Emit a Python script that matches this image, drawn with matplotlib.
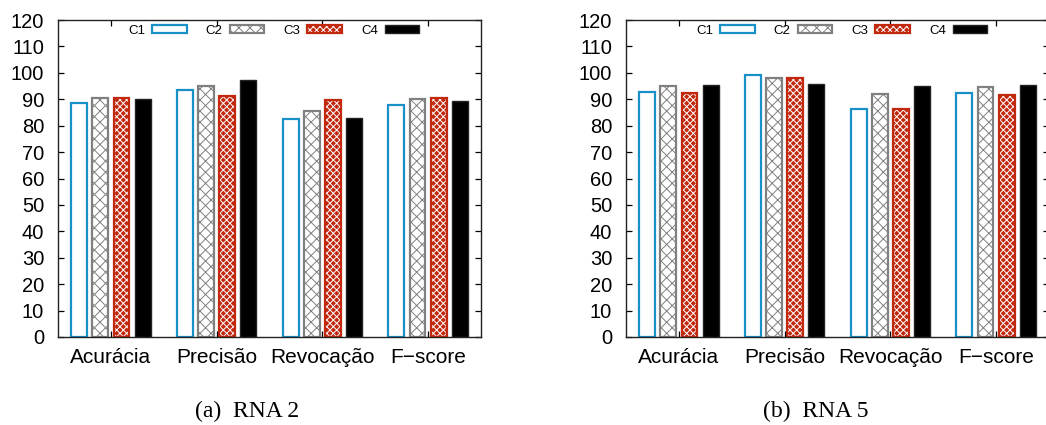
import matplotlib.pyplot as plt
import numpy as np

# metric names on the x axis
metrics = ["Acurácia", "Precisão", "Revocação", "F\u2212score"]
series = ["C1", "C2", "C3", "C4"]

# RNA 2 (left panel)
rna2_c1 = [88.4, 93.6, 82.6, 87.7]
rna2_c2 = [90.6, 95.1, 85.7, 90.2]
rna2_c3 = [90.3, 91.2, 89.6, 90.3]
rna2_c4 = [90.2, 97.3, 82.8, 89.4]

# RNA 5 (right panel)
rna5_c1 = [92.9, 99.2, 86.3, 92.2]
rna5_c2 = [95.0, 98.0, 91.9, 94.8]
rna5_c3 = [92.2, 98.0, 86.4, 91.7]
rna5_c4 = [95.5, 95.8, 95.1, 95.5]

yticks = list(range(0, 121, 10))

blue = "#1a90c8"
grey = "#808080"
red = "#c2280e"

plt.rcParams["font.family"] = ["Liberation Sans", "DejaVu Sans"]
plt.rcParams["hatch.linewidth"] = 0.7


def draw_panel(ax, values):
    x = np.arange(len(metrics))
    w = 0.15
    offs = [-0.3, -0.1, 0.1, 0.3]
    handles = []
    # C1: empty box, blue border
    h1 = ax.bar(x + offs[0], values[0], w, facecolor="white",
                edgecolor=blue, linewidth=1.6)
    handles.append(h1[0])
    # C2: grey crosshatch
    h2 = ax.bar(x + offs[1], values[1], w, facecolor="white",
                edgecolor=grey, hatch="xxx", linewidth=1.6)
    handles.append(h2[0])
    # C3: red with fine white pattern
    h3a = ax.bar(x + offs[2], values[2], w, facecolor=red,
                 edgecolor="white", hatch="xxxxx", linewidth=0)
    h3b = ax.bar(x + offs[2], values[2], w, facecolor="none",
                 edgecolor=red, linewidth=1.6)
    handles.append((h3a[0], h3b[0]))
    # C4: solid black
    h4 = ax.bar(x + offs[3], values[3], w, facecolor="black",
                edgecolor="#222222", linewidth=1.0)
    handles.append(h4[0])

    ax.set_xlim(-0.5, 3.5)
    ax.set_ylim(0, 120)
    ax.set_yticks(yticks)
    ax.set_xticks(x)
    ax.set_xticklabels(metrics, fontsize=15)
    ax.tick_params(axis="y", labelsize=14.5, pad=10)
    ax.tick_params(axis="x", pad=8)
    ax.tick_params(direction="in", length=4, width=0.9,
                   top=True, right=True)
    for s in ax.spines.values():
        s.set_linewidth(1.0)
        s.set_color("#222222")

    ax.legend(handles, series, ncol=4, loc="center",
              bbox_to_anchor=(0.51, 0.966), frameon=False,
              markerfirst=False, fontsize=9.5, handlelength=2.6,
              handleheight=0.5, handletextpad=0.55, columnspacing=1.45,
              borderpad=0.2)


fig = plt.figure(figsize=(10.46, 4.25), dpi=100)
ax1 = fig.add_axes([58 / 1046, 88 / 425, 423 / 1046, 317 / 425])
ax2 = fig.add_axes([626 / 1046, 88 / 425, 423 / 1046, 317 / 425])

draw_panel(ax1, [rna2_c1, rna2_c2, rna2_c3, rna2_c4])
draw_panel(ax2, [rna5_c1, rna5_c2, rna5_c3, rna5_c4])

fig.text(247 / 1046, 8 / 425, "(a)  RNA 2", ha="center", va="baseline",
         fontsize=17, family="Liberation Serif")
fig.text(816 / 1046, 8 / 425, "(b)  RNA 5", ha="center", va="baseline",
         fontsize=17, family="Liberation Serif")

fig.savefig("out.png", dpi=100)
